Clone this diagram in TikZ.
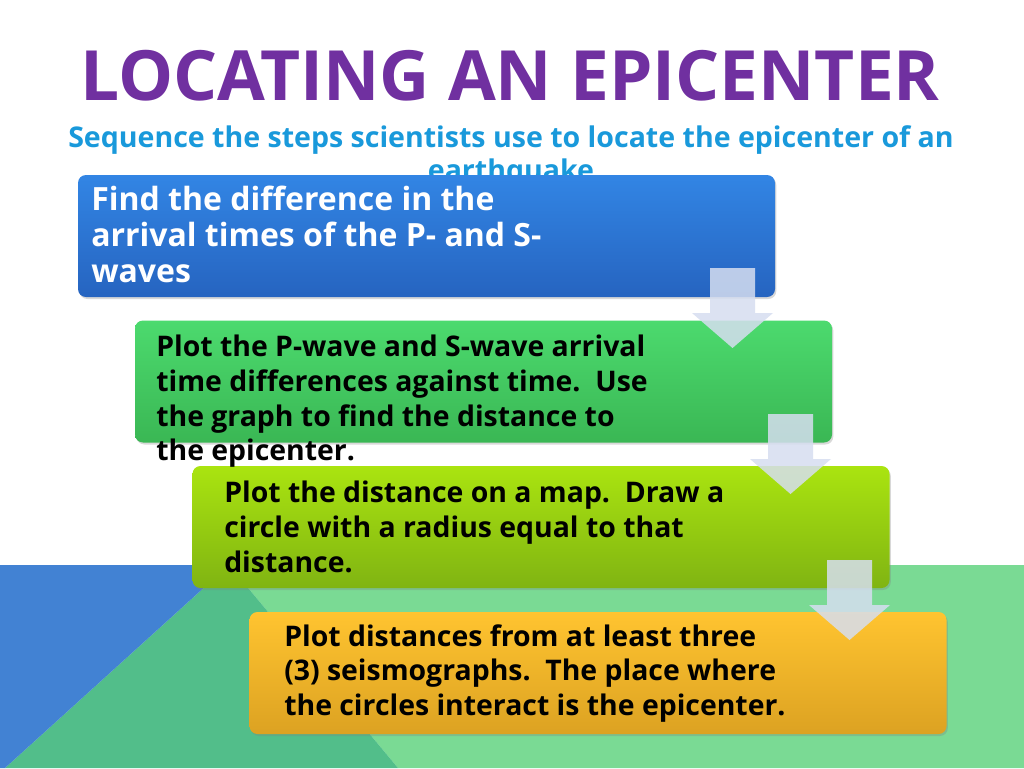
\documentclass[tikz,border=0pt]{standalone}
\usepackage{fontspec}
\setmainfont{Open Sans}
\usetikzlibrary{shadows}
\definecolor{titlepurple}{RGB}{112,48,160}
\definecolor{subblue}{RGB}{25,153,219}
\definecolor{bgblue}{RGB}{66,130,211}
\definecolor{bgmid}{RGB}{82,190,138}
\definecolor{bglight}{RGB}{122,218,148}
\definecolor{arrowlav}{RGB}{214,222,240}
\definecolor{blueA}{RGB}{50,133,228}
\definecolor{blueB}{RGB}{38,100,192}
\definecolor{greenA}{RGB}{76,218,110}
\definecolor{greenB}{RGB}{58,183,84}
\definecolor{limeA}{RGB}{170,228,16}
\definecolor{limeB}{RGB}{128,180,18}
\definecolor{goldA}{RGB}{255,196,48}
\definecolor{goldB}{RGB}{220,162,34}
\tikzset{
  stepbox/.style={rounded corners=6pt, minimum width=522.75pt, minimum height=91.5pt,
    drop shadow={shadow xshift=1pt, shadow yshift=-1.5pt, opacity=0.3}},
  steptext/.style={anchor=north west, align=left, inner sep=0pt,
    font=\bfseries\fontsize{21.3}{26}\selectfont},
  flowarrow/.style={fill=arrowlav, fill opacity=0.85}
}

\begin{document}
\begin{tikzpicture}[x=0.75pt, y=-0.75pt]
\useasboundingbox (0,0) rectangle (1024,768);
\fill[white] (0,0) rectangle (1024,768);
\fill[bglight] (229,565) -- (1024,565) -- (1024,768) -- (398,768) -- cycle;
\fill[bgmid] (229,565) -- (398,768) -- (5,768) -- cycle;
\fill[bgblue] (0,565) -- (229,565) -- (5,768) -- (0,768) -- cycle;

\node (title) at (510,100) [anchor=base, text=titlepurple, font=\bfseries\fontsize{52}{60}\selectfont] {LOCATING AN EPICENTER};
\node (sub) at (511,180) [anchor=base, text=subblue, align=center, font=\bfseries\fontsize{21.4}{24.75}\selectfont] {Sequence the steps scientists use to locate the epicenter of an\\earthquake};

\node (s1) at (426.5,236) [stepbox, top color=blueA, bottom color=blueB] {};
\node (s2) at (483.5,381.5) [stepbox, top color=greenA, bottom color=greenB] {};
\node (s3) at (541,527) [stepbox, top color=limeA, bottom color=limeB] {};
\node (s4) at (598,673) [stepbox, top color=goldA, bottom color=goldB] {};

\node (t1) at (91,186) [steptext, text=white, font=\bfseries\fontsize{24}{27}\selectfont] {Find the difference in the\\arrival times of the P- and S-\\waves};
\node (t2) at (156,335) [steptext] {Plot the P-wave and S-wave arrival\\time differences against time.\ \ Use\\the graph to find the distance to\\the epicenter.};
\node (t3) at (224,481) [steptext] {Plot the distance on a map.\ \ Draw a\\circle with a radius equal to that\\distance.};
\node (t4) at (284,624) [steptext] {Plot distances from at least three\\(3) seismographs.\ \ The place where\\the circles interact is the epicenter.};

\coordinate (a1) at (732.5,268);
\coordinate (a2) at (790.5,414);
\coordinate (a3) at (849.5,560);
\foreach \a in {a1,a2,a3}
  \fill[flowarrow, shift={(\a)}] (-22.5,0) -- (22.5,0) -- (22.5,45) -- (40.5,45) -- (0,80) -- (-40.5,45) -- (-22.5,45) -- cycle;
\end{tikzpicture}
\end{document}
